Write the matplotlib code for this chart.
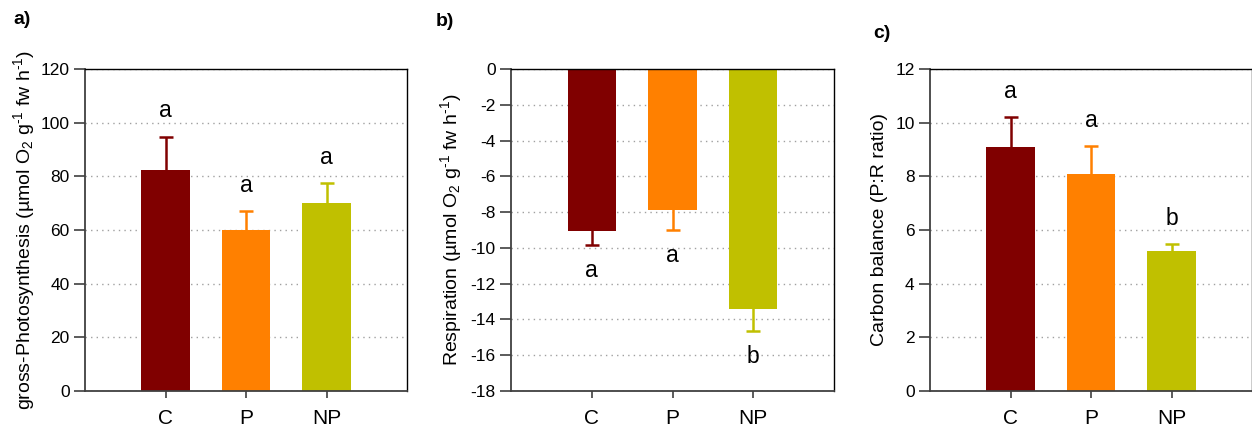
import matplotlib.pyplot as plt
import numpy as np

plt.rcParams['font.family'] = ['Liberation Sans', 'DejaVu Sans']
plt.rcParams['mathtext.fontset'] = 'custom'
plt.rcParams['mathtext.rm'] = 'Liberation Sans'
plt.rcParams['mathtext.it'] = 'Liberation Sans:italic'
plt.rcParams['mathtext.default'] = 'regular'

groups = ['C', 'P', 'NP']
colors = ['#800000', '#ff8000', '#c0c000']

photo_mean = [82.3, 60.0, 70.0]
photo_err = [12.5, 7.1, 7.6]
photo_letters = ['a', 'a', 'a']

resp_mean = [-9.05, -7.88, -13.4]
resp_err = [0.8, 1.1, 1.25]
resp_letters = ['a', 'a', 'b']

ratio_mean = [9.08, 8.08, 5.22]
ratio_err = [1.13, 1.05, 0.26]
ratio_letters = ['a', 'a', 'b']

unit = r'(µmol O$_2$ g$^{\text{-1}}$ fw h$^{\text{-1}}$)'

fig = plt.figure(figsize=(12.52, 4.34), dpi=100)

panels = [
  dict(left=85, right=407, mean=photo_mean, err=photo_err, letters=photo_letters,
       ylim=(0, 120), step=20, tag='a)', tag_xy=(13, 20),
       ylabel='gross-Photosynthesis ' + unit, lab_x=-0.15),
  dict(left=511, right=834, mean=resp_mean, err=resp_err, letters=resp_letters,
       ylim=(-18, 0), step=2, tag='b)', tag_xy=(436, 22),
       ylabel='Respiration ' + unit, lab_x=-0.145),
  dict(left=930, right=1252, mean=ratio_mean, err=ratio_err, letters=ratio_letters,
       ylim=(0, 12), step=2, tag='c)', tag_xy=(873, 33),
       ylabel='Carbon balance (P:R ratio)', lab_x=-0.13),
]

W, H = 1252, 434
top_px, bot_px = 69, 391
x = np.arange(len(groups))

for p in panels:
  ax = fig.add_axes([p['left'] / W, 1 - bot_px / H, (p['right'] - p['left']) / W,
                     (bot_px - top_px) / H])
  ax.set_axisbelow(True)
  for i in range(len(groups)):
    ax.errorbar(x[i], p['mean'][i], yerr=p['err'][i], fmt='none', ecolor=colors[i],
                elinewidth=1.8, capsize=5, capthick=1.8, zorder=2.2)
  # bars below the spines so the frame stays visible on top
  ax.bar(x, p['mean'], 0.6, color=colors, zorder=2.4)

  lo, hi = p['ylim']
  ax.set_ylim(lo, hi)
  ax.set_xlim(-1, 3)
  ticks = np.arange(lo, hi + p['step'] / 2, p['step'])
  ax.set_yticks(ticks)
  ax.set_yticklabels([f'{v:g}' for v in ticks])
  ax.set_xticks(x)
  ax.set_xticklabels(groups, fontsize=15)
  ax.yaxis.grid(True, linestyle=(0, (1, 3)), color='#a0a0a0', linewidth=1.0)
  ax.tick_params(axis='y', labelsize=12.5, length=8, width=1.2, color='#404040', pad=3)
  ax.tick_params(axis='x', length=5, width=1.2, color='#404040', pad=8)
  for s in ['left', 'bottom']:
    ax.spines[s].set_color('#404040')
    ax.spines[s].set_linewidth(1.3)
  for s in ['top', 'right']:
    ax.spines[s].set_linewidth(1.0)

  ax.set_ylabel(p['ylabel'], fontsize=14)
  ax.yaxis.set_label_coords(p['lab_x'], 0.5)

  for i, m in enumerate(p['mean']):
    tip = m + p['err'][i] if m > 0 else m - p['err'][i]
    off = 18.5 if m > 0 else -18.5
    ax.annotate(p['letters'][i], (x[i], tip), xytext=(0, off), textcoords='offset points',
                ha='center', va='center', fontsize=16.5)

  fig.text(p['tag_xy'][0] / W, 1 - p['tag_xy'][1] / H, p['tag'], fontsize=14,
           fontweight='bold', ha='left', va='center')

fig.savefig('out.png', dpi=100)
